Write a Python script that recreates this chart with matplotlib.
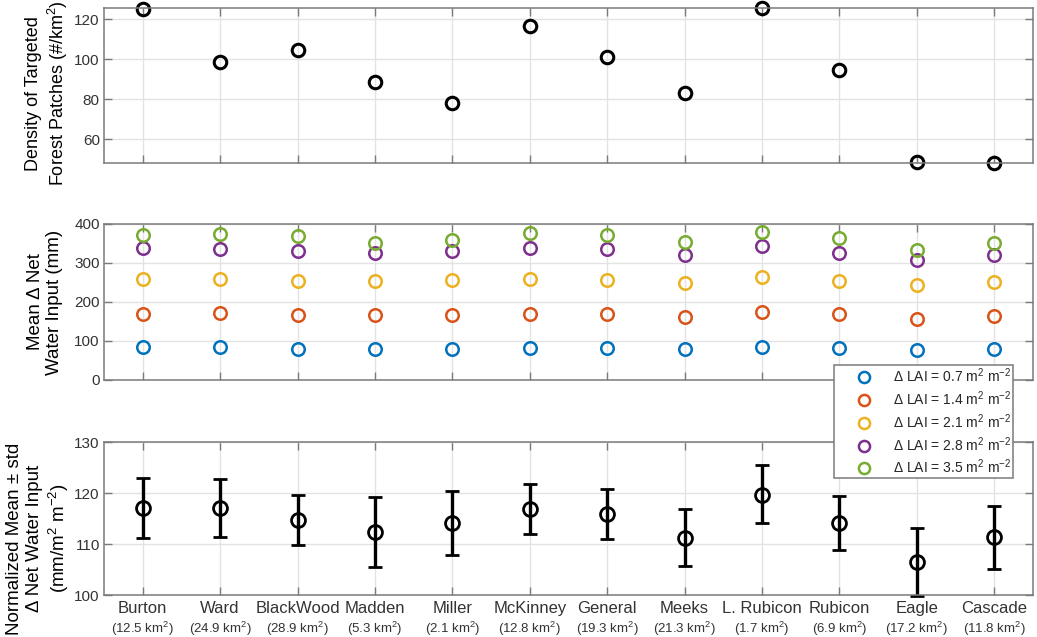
import numpy as np
import matplotlib
matplotlib.use("Agg")
import matplotlib.pyplot as plt
from matplotlib.lines import Line2D

plt.rcParams['font.family'] = ['Liberation Sans', 'DejaVu Sans']
plt.rcParams['mathtext.default'] = 'regular'

# watersheds and their areas
names = ["Burton", "Ward", "BlackWood", "Madden", "Miller", "McKinney",
         "General", "Meeks", "L. Rubicon", "Rubicon", "Eagle", "Cascade"]
areas = ["12.5", "24.9", "28.9", "5.3", "2.1", "12.8",
         "19.3", "21.3", "1.7", "6.9", "17.2", "11.8"]

# density of targeted forest patches (#/km2)
density = [125, 98.5, 104.5, 88.5, 78, 116.5, 101, 83.2, 125.5, 94.3, 48.7, 47.9]

# mean delta net water input (mm) for each delta LAI
lai_labels = ["0.7", "1.4", "2.1", "2.8", "3.5"]
dnwi_07 = [84, 84, 80, 79, 79, 83, 81, 79, 85, 81, 76, 79]
dnwi_14 = [170, 172, 166, 166, 167, 169, 168, 162, 175, 168, 157, 165]
dnwi_21 = [259, 259, 253, 253, 256, 258, 256, 248, 265, 254, 244, 251]
dnwi_28 = [339, 337, 330, 326, 331, 338, 335, 321, 344, 326, 307, 320]
dnwi_35 = [372, 373, 369, 350, 360, 378, 372, 353, 380, 364, 332, 350]

# normalized mean and std (upper / lower ends)
norm_mean = [117.1, 117.1, 114.7, 112.4, 114.1, 116.8, 115.8, 111.1, 119.7, 114.1, 106.4, 111.3]
norm_upper = [122.9, 122.7, 119.6, 119.3, 120.3, 121.7, 120.7, 116.8, 125.4, 119.4, 113.2, 117.5]
norm_lower = [111.2, 111.4, 109.9, 105.5, 107.8, 112.0, 111.0, 105.6, 114.1, 108.8, 99.8, 105.1]

colors = ["#0072BD", "#D95319", "#EDB120", "#7E2F8E", "#77AC30"]
spine_col = "#7a7a7a"
tick_col = "#333333"


def style_axes(ax):
    ax.set_xlim(0.5, 12.5)
    ax.grid(True, color="#e3e3e3", linewidth=1)
    ax.set_axisbelow(True)
    for s in ax.spines.values():
        s.set_color(spine_col)
        s.set_linewidth(1.1)
    ax.tick_params(direction="in", length=6, width=1, color=spine_col,
                   top=True, right=True, labelsize=11, labelcolor=tick_col, pad=3)
    ax.set_xticks(x)


fig = plt.figure(figsize=(10.37, 6.37), dpi=100)
x = np.arange(1, 13)

# top panel
ax1 = fig.add_axes([0.1003, 0.7441, 0.8958, 0.2433])
style_axes(ax1)
ax1.plot(x, density, "o", mfc="none", mec="black", ms=9, mew=2.2, clip_on=False)
ax1.set_ylim(48, 125.5)
ax1.set_yticks([60, 80, 100, 120])
ax1.set_xticklabels([])
ax1.set_ylabel("Density of Targeted\nForest Patches (#/km$^2$)", fontsize=13)
ax1.yaxis.set_label_coords(-0.037, 0.45)

# middle panel
ax2 = fig.add_axes([0.1003, 0.4035, 0.8958, 0.2449])
style_axes(ax2)
series = [dnwi_07, dnwi_14, dnwi_21, dnwi_28, dnwi_35]
handles = []
for vals, c, lab in zip(series, colors, lai_labels):
    ax2.plot(x, vals, "o", mfc="none", mec=c, ms=9, mew=1.8, clip_on=False)
    handles.append(Line2D([], [], ls="none", marker="o", mfc="none", mec=c, ms=8, mew=1.8,
                          label="\u0394 LAI = " + lab + " m$^2$ m$^{-2}$"))
ax2.set_ylim(0, 400)
ax2.set_yticks([0, 100, 200, 300, 400])
ax2.set_xticklabels([])
ax2.set_ylabel("Mean \u0394 Net\nWater Input (mm)", fontsize=13.5)
ax2.yaxis.set_label_coords(-0.044, 0.5)

# bottom panel
ax3 = fig.add_axes([0.1003, 0.0659, 0.8958, 0.2402])
style_axes(ax3)
mean = np.array(norm_mean)
yerr = [mean - np.array(norm_lower), np.array(norm_upper) - mean]
eb = ax3.errorbar(x, mean, yerr=yerr, fmt="o", mfc="none", mec="black", ms=10, mew=2,
                  ecolor="black", elinewidth=2.4, capsize=5, capthick=2.4)
for art in eb.get_children():
    art.set_clip_on(False)
ax3.set_ylim(100, 130)
ax3.set_yticks([100, 110, 120, 130])
# names as major tick labels, areas as a second row of minor tick labels
ax3.set_xticklabels(names, fontsize=12)
ax3.tick_params(axis="x", which="major", pad=4)
ax3.xaxis.remove_overlapping_locs = False
ax3.set_xticks(x, minor=True)
ax3.set_xticklabels(["(" + a + " km$^2$)" for a in areas], minor=True, fontsize=9.5)
ax3.tick_params(axis="x", which="minor", length=0, pad=18, labelcolor=tick_col)
ax3.set_ylabel("Normalized Mean \u00b1 std\n\u0394 Net Water Input\n(mm/m$^2$ m$^{-2}$)",
               fontsize=13.5)
ax3.yaxis.set_label_coords(-0.036, 0.37)

leg = fig.legend(handles=handles, loc="upper right",
                 bbox_to_anchor=(1013 / 1037, 1 - 365 / 637), fontsize=10,
                 frameon=True, fancybox=False, framealpha=1, edgecolor=spine_col,
                 borderaxespad=0, borderpad=0.12, handlelength=4.0, handletextpad=0.1,
                 labelspacing=0.3)
leg.get_frame().set_linewidth(1.1)
for t in leg.get_texts():
    t.set_color("#262626")

fig.savefig("out.png", dpi=100)
